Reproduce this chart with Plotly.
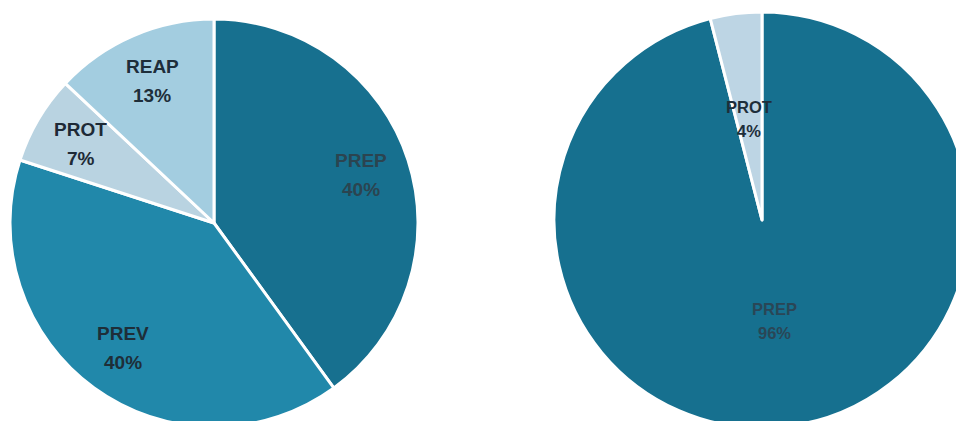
import numpy as np
import plotly.graph_objects as go

# left pie
left_labels = ["PREP", "PREV", "PROT", "REAP"]
left_values = [40, 40, 7, 13]
left_colors = ["#17708f", "#2188aa", "#b9d3e1", "#a3cde0"]

# right pie
right_labels = ["PREP", "PROT"]
right_values = [96, 4]
right_colors = ["#16708f", "#bdd5e4"]

# both pies run past the bottom/right edge of the 956x421 window,
# so the figure is a bit bigger and the page hides the overflow
W, H = 972, 430

fig = go.Figure()

left_dom = dict(x=[10 / W, 418 / W], y=[3 / H, 411 / H])
right_dom = dict(x=[554 / W, 970 / W], y=[2 / H, 418 / H])

fig.add_trace(go.Pie(
    labels=left_labels, values=left_values, sort=False, direction="clockwise",
    rotation=0, marker=dict(colors=left_colors, line=dict(color="white", width=3)),
    textinfo="none", hoverinfo="label+percent", domain=left_dom, showlegend=False,
))
fig.add_trace(go.Pie(
    labels=right_labels, values=right_values, sort=False, direction="clockwise",
    rotation=0, marker=dict(colors=right_colors, line=dict(color="white", width=3)),
    textinfo="none", hoverinfo="label+percent", domain=right_dom, showlegend=False,
))


def add_labels(labels, values, dom, frac, size, gap, colors):
    # pie centre and radius in pixels, from the domain
    x0, x1 = dom["x"][0] * W, dom["x"][1] * W
    y0, y1 = (1 - dom["y"][1]) * H, (1 - dom["y"][0]) * H
    r = min(x1 - x0, y1 - y0) / 2
    cx, cy = (x0 + x1) / 2, (y0 + y1) / 2
    total = sum(values)
    start = 0.0
    for lab, v, col in zip(labels, values, colors):
        mid = (start + v / 2) / total * 2 * np.pi
        start += v
        px = cx + frac * r * np.sin(mid)
        py = cy - frac * r * np.cos(mid)
        pct = f"{round(100 * v / total)}%"
        for txt, shift in ((lab, gap / 2), (pct, -gap / 2)):
            fig.add_annotation(
                x=px / W, y=1 - py / H, xref="paper", yref="paper",
                xanchor="center", yanchor="middle",
                text=f"<b>{txt}</b>", showarrow=False, yshift=shift,
                font=dict(size=size, color=col, family="Liberation Sans"),
            )


add_labels(left_labels, left_values, left_dom, 0.76, 19, 29,
           ["#2b4450", "#1e2e38", "#1e2a36", "#1e2e3a"])
add_labels(right_labels, right_values, right_dom, 0.49, 16.5, 24,
           ["#2a4656", "#1e2e3a"])

fig.update_layout(
    width=W, height=H,
    margin=dict(l=0, r=0, t=0, b=0),
    paper_bgcolor="white", plot_bgcolor="white",
)

fig.write_html(
    "out.html",
    config={"displayModeBar": False},
    post_script="document.body.style.margin='0';document.body.style.overflow='hidden';",
)
